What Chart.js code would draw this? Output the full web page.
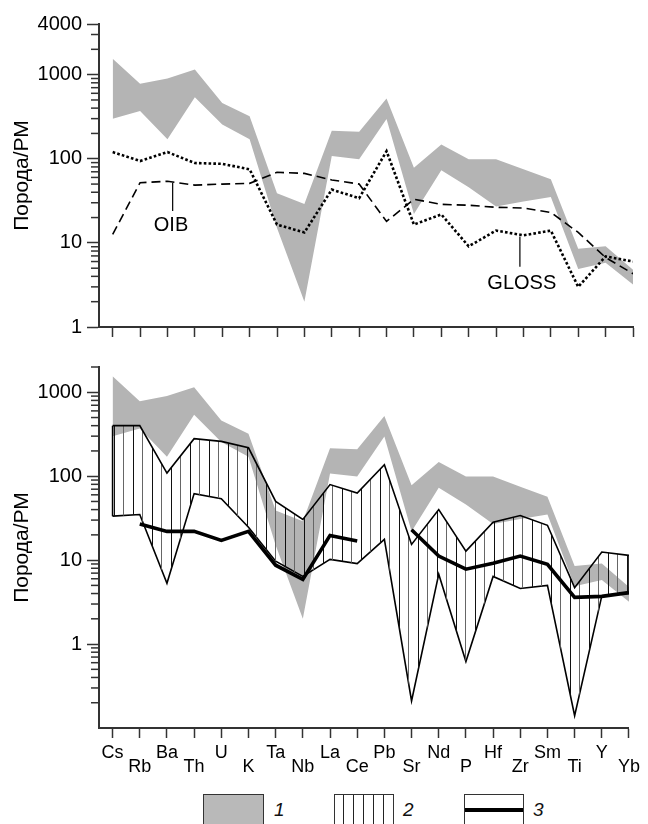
<!DOCTYPE html>
<html lang="ru">
<head>
<meta charset="UTF-8">
<title>Спайдер-диаграмма Порода/РМ</title>
<script src="https://cdn.jsdelivr.net/npm/chart.js@4"></script>
<style>
  body { margin: 0; background: #fff; }
  #wrap { position: relative; width: 648px; height: 824px; overflow: hidden; font-family: "Liberation Sans", Arial, sans-serif; }
  .panel { position: absolute; left: 0; width: 648px; }
  #topBox { top: 0; height: 345px; }
  #botBox { top: 340px; height: 445px; }
  .lbox { position: absolute; top: 794px; height: 40px; box-sizing: border-box; border: 1.5px solid #333; }
  .ltxt { position: absolute; top: 800px; font-size: 19px; font-style: italic; color: #111; line-height: 20px; }
  #l1 { left: 203px; width: 61px; background: #b9b9b9; }
  #l2 { left: 334px; width: 60px; background: repeating-linear-gradient(to right, transparent 0 8px, #222 8px 9px, transparent 9px 10px); }
  #l3 { left: 464px; width: 60px; background: #fff; }
  #l3 div { position: absolute; left: 0; right: 0; top: 13px; height: 4px; background: #000; }
</style>
</head>
<body>
<div id="wrap">
  <div class="panel" id="topBox"><canvas id="topChart"></canvas></div>
  <div class="panel" id="botBox"><canvas id="botChart"></canvas></div>
  <div class="lbox" id="l1"></div><span class="ltxt" style="left:274px">1</span>
  <div class="lbox" id="l2"></div><span class="ltxt" style="left:403px">2</span>
  <div class="lbox" id="l3"><div></div></div><span class="ltxt" style="left:533px">3</span>
</div>
<script>
// элементы (ось X)
const elements = ['Cs','Rb','Ba','Th','U','K','Ta','Nb','La','Ce','Pb','Sr','Nd','P','Hf','Zr','Sm','Ti','Y','Yb'];

// поле 1 (серая область), верхняя и нижняя граница
const field1Upper = [1550, 780, 900, 1150, 460, 320, 39, 29, 215, 210, 520, 78, 148, 99, 99, 75, 57, 8.5, 9.1, 4.8];
const field1Lower = [300, 370, 171, 540, 255, 171, 15, 2, 108, 99, 297, 22, 73, 46, 27, 31, 35, 4.9, 5.8, 3.2];

// GLOSS и OIB
const gloss = [120, 94, 120, 89, 87, 75, 16.5, 13.3, 43, 34, 123, 16.5, 21.8, 9.1, 14, 12.3, 14, 3.0, 6.9, 6.0];
const oib = [12.6, 52, 54, 48.6, 50, 51, 69, 67, 56, 50, 18, 33, 28.7, 28, 26.5, 26, 23, 13.3, 6.7, 4.3];

// поле 2 (штриховка)
const field2Upper = [400, 400, 109, 280, 260, 218, 50, 30.5, 79.5, 63, 137, 15.4, 40, 12.8, 28.3, 34, 26, 4.7, 12.5, 11.4];
const field2Lower = [33.4, 35, 5.3, 62, 54, 24.6, 9.7, 6.4, 10.2, 9.1, 17.7, 0.21, 6.8, 0.62, 6.4, 4.6, 5.0, 0.14, 3.75, 4.0];

// линия 3
const line3 = [null, 27, 22, 22, 17.2, 22, 8.7, 5.9, 19.7, 16.9, null, 23, 11.2, 7.8, 9.2, 11.2, 8.9, 3.6, 3.7, 4.1];

// деления оси Y
const topTicks = [1, 10, 100, 1000, 4000];
const botTicks = [1, 10, 100, 1000];

// подписи OIB / GLOSS и выноски
const oibLabel = { text: 'OIB', x: 2.13, y: 16 };
const oibLeader = [{ x: 2.19, y: 52 }, { x: 2.19, y: 24 }];
const glossLabel = { text: 'GLOSS', x: 14.94, y: 3.25 };
const glossLeader = [{ x: 14.87, y: 11.9 }, { x: 14.87, y: 5.2 }];

const axisColor = '#333';
const grayFill = '#b4b4b4';
Chart.defaults.font.family = '"Liberation Sans", Arial, sans-serif';
Chart.defaults.color = '#000';

const pts = arr => arr.map((v, i) => ({ x: i, y: v }));

// штриховка
function hatchPattern() {
  const c = document.createElement('canvas');
  c.width = 19; c.height = 10;
  const g = c.getContext('2d');
  g.fillStyle = '#111';
  g.fillRect(0, 0, 1, 10);
  g.fillStyle = '#666';
  g.fillRect(9, 0, 1, 10);
  return g.createPattern(c, 'repeat');
}

// мелкие деления на логарифмической оси
const minorTicks = {
  id: 'minorTicks',
  afterDraw(chart) {
    const s = chart.scales.y, ctx = chart.ctx;
    const majors = s.ticks.map(t => t.value);
    ctx.save();
    ctx.strokeStyle = axisColor;
    ctx.lineWidth = 1.5;
    for (let e = Math.floor(Math.log10(s.min)); e <= Math.ceil(Math.log10(s.max)); e++) {
      for (let m = 2; m <= 9; m++) {
        const v = m * Math.pow(10, e);
        if (v < s.min * 0.999 || v > s.max * 1.001) continue;
        if (majors.some(t => Math.abs(t - v) < 1e-9 * v)) continue;
        const y = s.getPixelForValue(v);
        ctx.beginPath();
        ctx.moveTo(s.right - 8, y);
        ctx.lineTo(s.right, y);
        ctx.stroke();
      }
    }
    ctx.restore();
  }
};

// подписи серий
const seriesText = {
  id: 'seriesText',
  afterDatasetsDraw(chart, args, opts) {
    if (!opts.items) return;
    const ctx = chart.ctx;
    ctx.save();
    ctx.font = '20px "Liberation Sans", Arial, sans-serif';
    ctx.fillStyle = '#000';
    ctx.textAlign = 'center';
    ctx.textBaseline = 'middle';
    opts.items.forEach(it => {
      ctx.fillText(it.text, chart.scales.x.getPixelForValue(it.x), chart.scales.y.getPixelForValue(it.y));
    });
    ctx.restore();
  }
};

function xScale(showLabels, height) {
  return {
    type: 'linear', min: -0.5, max: 19,
    afterBuildTicks: s => { s.ticks = elements.map((_, i) => ({ value: i })); },
    afterFit: s => { s.height = height; },
    border: { display: true, color: axisColor, width: 2 },
    grid: { drawOnChartArea: false, drawTicks: true, tickLength: 10, tickColor: axisColor, tickWidth: 1.5 },
    ticks: {
      display: showLabels, autoSkip: false, maxRotation: 0, padding: 8,
      font: { size: 18, lineHeight: 0.78 }, color: '#000',
      callback: v => { const i = Math.round(v); return i % 2 === 0 ? [elements[i], ''] : ['', elements[i]]; }
    }
  };
}

function yScale(min, max, ticks) {
  return {
    type: 'logarithmic', min: min, max: max,
    afterBuildTicks: s => { s.ticks = ticks.map(v => ({ value: v })); },
    afterFit: s => { s.width = 99; },
    border: { display: true, color: axisColor, width: 2 },
    grid: { drawOnChartArea: false, drawTicks: true, tickLength: 12, tickColor: axisColor, tickWidth: 1.5 },
    ticks: { autoSkip: false, padding: 5, font: { size: 20 }, color: '#000', callback: v => String(v) },
    title: { display: true, text: 'Порода/РМ', font: { size: 21 }, color: '#000', padding: { top: 10, bottom: 0 } }
  };
}

const line = (data, extra) => Object.assign({
  data: data, pointRadius: 0, borderColor: '#000', borderWidth: 1.5, fill: false, tension: 0
}, extra);

const baseOptions = (xs, ys, pad, items) => ({
  responsive: true, maintainAspectRatio: false, animation: false,
  layout: { padding: pad },
  scales: { x: xs, y: ys },
  plugins: { legend: { display: false }, tooltip: { enabled: false }, seriesText: { items: items } }
});

// верхний график
new Chart(document.getElementById('topChart'), {
  type: 'line',
  data: {
    datasets: [
      line(pts(field1Lower), { borderColor: 'rgba(0,0,0,0)', borderWidth: 1, order: 10 }),
      line(pts(field1Upper), { borderColor: 'rgba(0,0,0,0)', borderWidth: 1, backgroundColor: grayFill, fill: 0, order: 9 }),
      line(pts(oib), { borderWidth: 1.6, borderDash: [9, 5], order: 2 }),
      line(pts(gloss), { borderWidth: 2.6, borderDash: [2.6, 2.2], order: 1 }),
      line(oibLeader, { borderWidth: 1.2, order: 0 }),
      line(glossLeader, { borderWidth: 1.2, order: 0 })
    ]
  },
  options: baseOptions(xScale(false, 18), yScale(1, 4000, topTicks), { top: 24, right: 15, left: 0, bottom: 0 }, [oibLabel, glossLabel]),
  plugins: [minorTicks, seriesText]
});

// нижний график
const hatch = hatchPattern();
new Chart(document.getElementById('botChart'), {
  type: 'line',
  data: {
    datasets: [
      line(pts(field1Lower), { borderColor: 'rgba(0,0,0,0)', borderWidth: 1, order: 10 }),
      line(pts(field1Upper), { borderColor: 'rgba(0,0,0,0)', borderWidth: 1, backgroundColor: grayFill, fill: 0, order: 9 }),
      line(pts(field2Lower), { borderWidth: 1.6, order: 4 }),
      line(pts(field2Upper), { borderWidth: 1.6, backgroundColor: hatch, fill: 2, order: 3 }),
      line([{ x: 0, y: field2Upper[0] }, { x: 0, y: field2Lower[0] }], { borderWidth: 1.6, order: 3 }),
      line([{ x: 19, y: field2Upper[19] }, { x: 19, y: field2Lower[19] }], { borderWidth: 1.6, order: 3 }),
      line(pts(line3), { borderWidth: 3.6, spanGaps: false, order: 0 })
    ]
  },
  options: baseOptions(xScale(true, 57), yScale(0.1, 2000, botTicks), { top: 27, right: 15, left: 0, bottom: 0 }, []),
  plugins: [minorTicks, seriesText]
});
</script>
</body>
</html>
